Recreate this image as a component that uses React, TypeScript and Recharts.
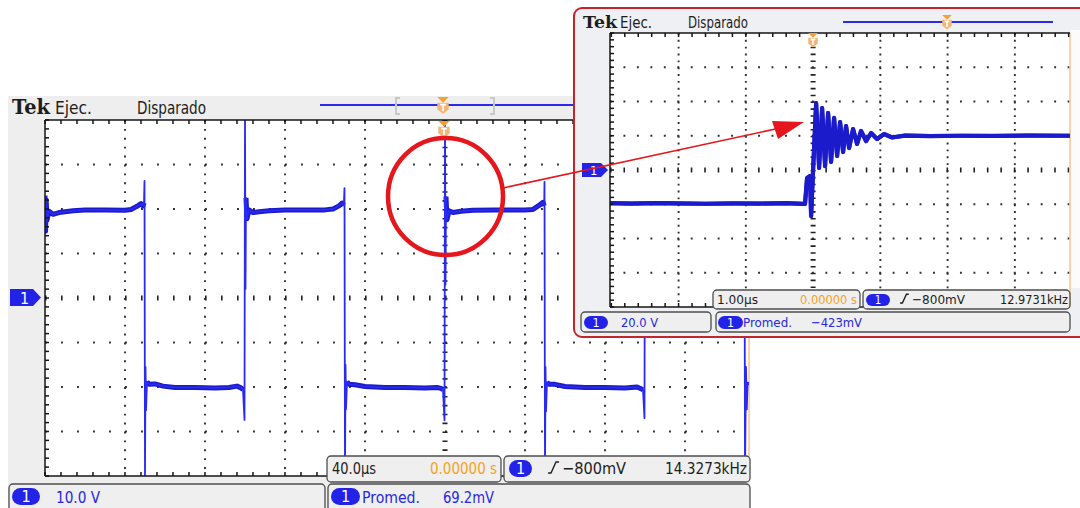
import React from 'react'
import { CartesianGrid, Line, LineChart, ReferenceLine, XAxis, YAxis } from 'recharts'

// Main capture: 40 µs/div, 10 V/div. [time µs from trigger, volts]
const mainTrace: [number, number][] = [
  [-200, 23], [-199.7, 15], [-199.4, 22], [-199, 17.5], [-198, 19.5], [-196, 18.8], [-193, 19.2],
  [-190, 19.4], [-186, 19.6], [-180, 19.8], [-170, 19.8], [-160, 19.7],
  [-157, 19.9], [-154, 20.6], [-152, 21.2], [-151, 20.7], [-150.5, 21.4], [-150.25, 26.3], [-150, -40],
  [-149.75, -15.5], [-149.5, -25.2], [-149, -18.8], [-148, -19.4], [-145, -19.3], [-141, -19.8],
  [-135, -20.1], [-125, -20.1], [-115, -20.2], [-108, -20.1], [-104, -19.8], [-102, -20.2], [-101, -20.6],
  [-100.25, -27.4], [-100, 40], [-99.75, 2], [-99.5, 22.5], [-99, 17.8], [-98, 19.8], [-96, 19.2],
  [-93, 19.4], [-88, 19.6], [-80, 19.8], [-70, 19.8], [-60, 19.8],
  [-56, 20], [-53, 20.7], [-51.5, 21.3], [-50.6, 20.8], [-50.25, 24.7], [-50, -40],
  [-49.75, -15], [-49.5, -25], [-49, -18.8], [-48, -19.4], [-45, -19.5], [-40, -19.9], [-30, -20.1],
  [-20, -20.1], [-10, -20.2], [-4, -20.1], [-2, -20.3], [-1, -20.6],
  [-0.25, -27.5], [0, 40], [0.25, 3], [0.5, 22.8], [1, 17.6], [2, 19.6], [4, 19.2], [8, 19.5],
  [14, 19.7], [25, 19.8], [40, 19.8],
  [44, 19.9], [47, 20.8], [49, 21.5], [49.6, 20.7], [49.75, 26.1], [50, -40],
  [50.25, -15.5], [50.5, -25.5], [51, -18.9], [52, -19.4], [55, -19.4], [60, -19.9], [70, -20.1],
  [80, -20.1], [90, -20.2], [96, -20.0], [98, -20.4], [99, -20.6],
  [99.75, -27], [100, 40], [100.25, 3], [100.5, 22.5], [101, 17.8], [102, 19.6], [106, 19.4],
  [115, 19.7], [130, 19.8], [143, 19.9], [147, 20.7], [149.5, 21],
  [149.75, 26], [150, -40], [150.5, -15.5], [150.9, -25], [151.3, -19], [152, -19.5],
]

// Zoomed capture of the edge: 1 µs/div, 20 V/div
const zoomTrace: [number, number][] = [
  [-3.02, -19.4], [-2.7, -19.6], [-2.3, -19.3], [-2.0, -19.5], [-1.6, -19.7], [-1.2, -19.5],
  [-0.8, -19.6], [-0.4, -19.4], [-0.12, -19.8], [-0.09, -4.7], [-0.045, -3.5], [-0.03, -26.9],
  [0, 0], [0.045, 39.1], [0.089, 1.2], [0.134, 36.2], [0.178, 2.3], [0.223, 33.3], [0.267, 4.7],
  [0.312, 30.4], [0.357, 8.2], [0.401, 28.0], [0.446, 10.5], [0.49, 25.7], [0.535, 12.8],
  [0.594, 23.9], [0.654, 15.2], [0.713, 22.8], [0.788, 16.9], [0.862, 21.6], [0.951, 18.1],
  [1.055, 21.0], [1.174, 19.0], [1.367, 20.1], [1.74, 19.8], [2.2, 20.0], [2.7, 19.9],
  [3.2, 20.1], [3.82, 20.0],
]

const mainDomainT: [number, number] = [-200, 152]
const mainDomainV: [number, number] = [-40, 40]
const mainGridT = [-160, -120, -80, -40, 40, 80, 120]
const mainGridV = [-30, -20, -10, 10, 20, 30]

const zoomDomainT: [number, number] = [-3.02, 3.82]
const zoomDomainV: [number, number] = [-80, 80]
const zoomGridT = [-2, -1, 1, 2, 3]
const zoomGridV = [-60, -40, -20, 20, 40, 60]

const TRACE = '#2a2af0'
const TRACE_THICK = '#1b1bcc'
const DOT = '#2e2e2e'
const FONT = '"DejaVu Sans Condensed", "DejaVu Sans", sans-serif'

// minor graticule ticks (1/5 division)
function minor(from: number, to: number, step: number) {
  const out: number[] = []
  for (let v = from; v <= to + 1e-6; v += step) out.push(Math.round(v * 1000) / 1000)
  return out
}

const EmptyTick = () => <g />

// thick "level" stroke: same samples, broken wherever the trace leaves the band
function toRows(trace: [number, number][], lo: number, hi: number) {
  return trace.map(([t, v]) => ({ t, v, lv: Math.abs(v) >= lo && Math.abs(v) < hi ? v : null }))
}

interface ScopeProps {
  data: { t: number; v: number; lv: number | null }[]
  width: number
  height: number
  domainT: [number, number]
  domainV: [number, number]
  gridT: number[]
  gridV: number[]
  minorT: number[]
  minorV: number[]
  dashH: string
  dashV: string
  tickH: string
  tickV: string
  thin: number
  thick: number
  thinColor: string
}

function Scope(p: ScopeProps) {
  const axisLine = { stroke: '#151515', strokeWidth: 1.5 }
  return (
    <LineChart width={p.width} height={p.height} data={p.data} margin={{ top: 10, right: 10, bottom: 10, left: 10 }}>
      <CartesianGrid xAxisId="top" yAxisId="v" vertical={false} horizontalValues={p.gridV}
        stroke={DOT} strokeWidth={1.9} strokeDasharray={p.dashH} />
      <CartesianGrid xAxisId="top" yAxisId="v" horizontal={false} verticalValues={p.gridT}
        stroke={DOT} strokeWidth={1.9} strokeDasharray={p.dashV} />
      <XAxis xAxisId="top" type="number" dataKey="t" domain={p.domainT} allowDataOverflow orientation="top"
        mirror ticks={p.minorT} interval={0} tick={EmptyTick} tickSize={4} axisLine={axisLine} tickLine={axisLine} />
      <XAxis xAxisId="bottom" type="number" dataKey="t" domain={p.domainT} allowDataOverflow orientation="bottom"
        mirror ticks={p.minorT} interval={0} tick={EmptyTick} tickSize={4} axisLine={axisLine} tickLine={axisLine} />
      <YAxis yAxisId="v" type="number" domain={p.domainV} allowDataOverflow orientation="left"
        mirror ticks={p.minorV} interval={0} tick={EmptyTick} tickSize={4} axisLine={axisLine} tickLine={axisLine} />
      <ReferenceLine xAxisId="top" yAxisId="v" y={0} stroke="#222" strokeWidth={5} strokeDasharray={p.tickH} />
      <ReferenceLine xAxisId="top" yAxisId="v" x={0} stroke="#222" strokeWidth={5} strokeDasharray={p.tickV} />
      <ReferenceLine xAxisId="top" yAxisId="v" x={p.domainT[1]} stroke="#f6c796" strokeWidth={1.5} />
      <Line xAxisId="top" yAxisId="v" type="linear" dataKey="lv" stroke={TRACE_THICK} strokeWidth={p.thick}
        dot={false} activeDot={false} isAnimationActive={false} strokeLinejoin="round" />
      <Line xAxisId="top" yAxisId="v" type="linear" dataKey="v" stroke={p.thinColor} strokeWidth={p.thin}
        dot={false} activeDot={false} isAnimationActive={false} strokeLinejoin="round" />
    </LineChart>
  )
}

function Txt({ x, y, w, size, fill = '#1d1d1d', text, family = FONT, weight = 400 }: {
  x: number; y: number; w: number; size: number; fill?: string; text: string; family?: string; weight?: number
}) {
  return (
    <text x={x} y={y} fontSize={size} fill={fill} fontFamily={family} fontWeight={weight}
      textLength={w} lengthAdjust="spacingAndGlyphs">{text}</text>
  )
}

function Pill({ x, y, w, h }: { x: number; y: number; w: number; h: number }) {
  return (
    <g>
      <rect x={x} y={y} width={w} height={h} rx={h / 2} fill="#2323e8" />
      <text x={x + w / 2} y={y + h * 0.82} textAnchor="middle" fontSize={h * 0.95} fill="#fff" fontFamily={FONT}>1</text>
    </g>
  )
}

function Box({ x, y, w, h }: { x: number; y: number; w: number; h: number }) {
  return <rect x={x} y={y} width={w} height={h} rx={4} fill="#efefef" stroke="#4d4d4d" strokeWidth={1.3} />
}

function Slope({ x, y, s = 1 }: { x: number; y: number; s?: number }) {
  return <path d={`M${x} ${y} h${3 * s} l${5 * s} ${-11 * s} h${3 * s}`} stroke="#222" strokeWidth={1.4} fill="none" />
}

function TMark({ x, y, s = 1 }: { x: number; y: number; s?: number }) {
  return (
    <g>
      <path d={`M${x - 6 * s} ${y} h${12 * s} l${-6 * s} ${6 * s} Z`} fill="#f0a232" />
      <path d={`M${x - 6 * s} ${y + 6 * s} h${12 * s} v${7 * s} l${-6 * s} ${5 * s} l${-6 * s} ${-5 * s} Z`} fill="#f3b678" />
      <path d={`M${x - 3 * s} ${y + 8 * s} h${6 * s} M${x} ${y + 8 * s} v${7 * s}`} stroke="#fff" strokeWidth={1.6} />
    </g>
  )
}

export default function App() {
  const mainRows = toRows(mainTrace, 14, 23.5)
  const zoomRows = toRows(zoomTrace, 0, 100)
  const abs = (left: number, top: number, z: number): React.CSSProperties => ({ position: 'absolute', left, top, zIndex: z })

  return (
    <div style={{ position: 'absolute', left: 0, top: 0, width: 1080, height: 508, overflow: 'hidden', background: '#fff' }}>
      {/* main capture */}
      <div style={{ ...abs(8, 96, 1), width: 742, height: 430, background: '#eeeeee' }} />
      <div style={{ ...abs(45, 120, 1), width: 704, height: 356, background: '#fff' }} />
      <div style={abs(35, 110, 2)}>
        <Scope data={mainRows} width={724} height={376} domainT={mainDomainT} domainV={mainDomainV}
          gridT={mainGridT} gridV={mainGridV} minorT={minor(-200, 152, 8)} minorV={minor(-40, 40, 2)}
          dashH="1.9 14.1" dashV="1.9 7" tickH="1.6 14.4" tickV="1.6 7.3" thin={1.8} thick={5} thinColor={TRACE} />
      </div>
      <svg width={1080} height={508} style={{ ...abs(0, 0, 3), pointerEvents: 'none' }}>
        <Txt x={12} y={114} w={38} size={21} text="Tek" family='"DejaVu Serif", serif' weight={700} />
        <Txt x={55} y={114} w={37} size={18} text="Ejec." />
        <Txt x={137} y={114} w={69} size={18} text="Disparado" />
        <line x1={320} y1={105} x2={575} y2={105} stroke="#2a2ae8" strokeWidth={2} />
        <path d="M400 98 h-4 v16 h4 M490 98 h4 v16 h-4" stroke="#c8c8c8" strokeWidth={2} fill="none" />
        <TMark x={443} y={97} s={0.95} />
        <TMark x={444} y={121} s={0.95} />
        <path d="M10 289 h23 l8 8.5 l-8 8.5 h-23 Z" fill="#2323e8" />
        <text x={20} y={303.5} fontSize={16} fill="#fff" fontFamily={FONT}>1</text>

        <Box x={327} y={456} w={174} h={26} />
        <Txt x={332} y={474} w={44} size={16} text="40.0µs" />
        <Txt x={430} y={474} w={67} size={16} fill="#f5a31c" text="0.00000 s" />
        <Box x={504} y={456} w={246} h={26} />
        <Pill x={509} y={460} w={23} h={17} />
        <Slope x={548} y={473} />
        <Txt x={562} y={474} w={64} size={16} text="−800mV" />
        <Txt x={665} y={474} w={82} size={16} text="14.3273kHz" />
        <Box x={9} y={484} w={316} h={30} />
        <Pill x={12} y={488} w={28} h={17} />
        <Txt x={56} y={503} w={44} size={16} fill="#2727e0" text="10.0 V" />
        <Box x={328} y={484} w={422} h={30} />
        <Pill x={331} y={488} w={29} h={17} />
        <Txt x={362} y={503} w={58} size={16} fill="#2727e0" text="Promed." />
        <Txt x={443} y={503} w={51} size={16} fill="#2727e0" text="69.2mV" />
      </svg>

      {/* zoomed capture */}
      <div style={{ ...abs(573, 7, 4), width: 530, height: 331, background: '#eff0f4', border: '2px solid #c2262d',
        borderRadius: 9, boxSizing: 'border-box' }} />
      <div style={{ ...abs(610, 33, 4), width: 460, height: 274, background: '#fff' }} />
      <div style={{ ...abs(1071, 30, 4), width: 9, height: 258, background: '#fbfbfb' }} />
      <div style={abs(600, 23, 5)}>
        <Scope data={zoomRows} width={480} height={294} domainT={zoomDomainT} domainV={zoomDomainV}
          gridT={zoomGridT} gridV={zoomGridV} minorT={minor(-3, 3.8, 0.2)} minorV={minor(-80, 80, 4)}
          dashH="1.9 11.56" dashV="1.9 4.95" tickH="1.6 11.86" tickV="1.6 5.25" thin={4.2} thick={4}
          thinColor={TRACE_THICK} />
      </div>
      <svg width={1080} height={508} style={{ ...abs(0, 0, 6), pointerEvents: 'none' }}>
        <Txt x={583} y={28} w={34} size={17} text="Tek" family='"DejaVu Serif", serif' weight={700} />
        <Txt x={620} y={28} w={32} size={15} text="Ejec." />
        <Txt x={688} y={28} w={60} size={15} text="Disparado" />
        <line x1={843} y1={22} x2={1053} y2={22} stroke="#2a2ae8" strokeWidth={2} />
        <TMark x={947} y={15} s={0.8} />
        <TMark x={813} y={33} s={0.8} />
        <path d="M582 163 h19 l7 7 l-7 7 h-19 Z" fill="#2323e8" />
        <text x={590} y={175} fontSize={13} fill="#fff" fontFamily={FONT}>1</text>

        <Box x={713} y={290} w={147} h={19} />
        <Txt x={717} y={304} w={41} size={13} text="1.00µs" />
        <Txt x={800} y={304} w={57} size={13} fill="#f5a31c" text="0.00000 s" />
        <Box x={863} y={290} w={207} h={19} />
        <Pill x={866} y={294} w={24} h={12} />
        <Slope x={900} y={303} s={0.8} />
        <Txt x={912} y={304} w={53} size={13} text="−800mV" />
        <Txt x={1000} y={304} w={68} size={13} text="12.9731kHz" />
        <Box x={581} y={312} w={130} h={20} />
        <Pill x={584} y={316} w={24} h={13} />
        <Txt x={621} y={327} w={37} size={13} fill="#2727e0" text="20.0 V" />
        <Box x={716} y={312} w={354} h={20} />
        <Pill x={718} y={316} w={25} h={13} />
        <Txt x={743} y={327} w={49} size={13} fill="#2727e0" text="Promed." />
        <Txt x={811} y={327} w={51} size={13} fill="#2727e0" text="−423mV" />
      </svg>

      {/* annotation */}
      <svg width={1080} height={508} style={{ ...abs(0, 0, 7), pointerEvents: 'none' }}>
        <ellipse cx={445.5} cy={196.5} rx={57.5} ry={58.5} fill="none" stroke="#e5161c" strokeWidth={4.5} />
        <line x1={503} y1={188} x2={780} y2={128} stroke="#e5161c" strokeWidth={1.6} />
        <path d="M804 122 L772 121 L778 139 Z" fill="#e5161c" />
      </svg>
    </div>
  )
}
